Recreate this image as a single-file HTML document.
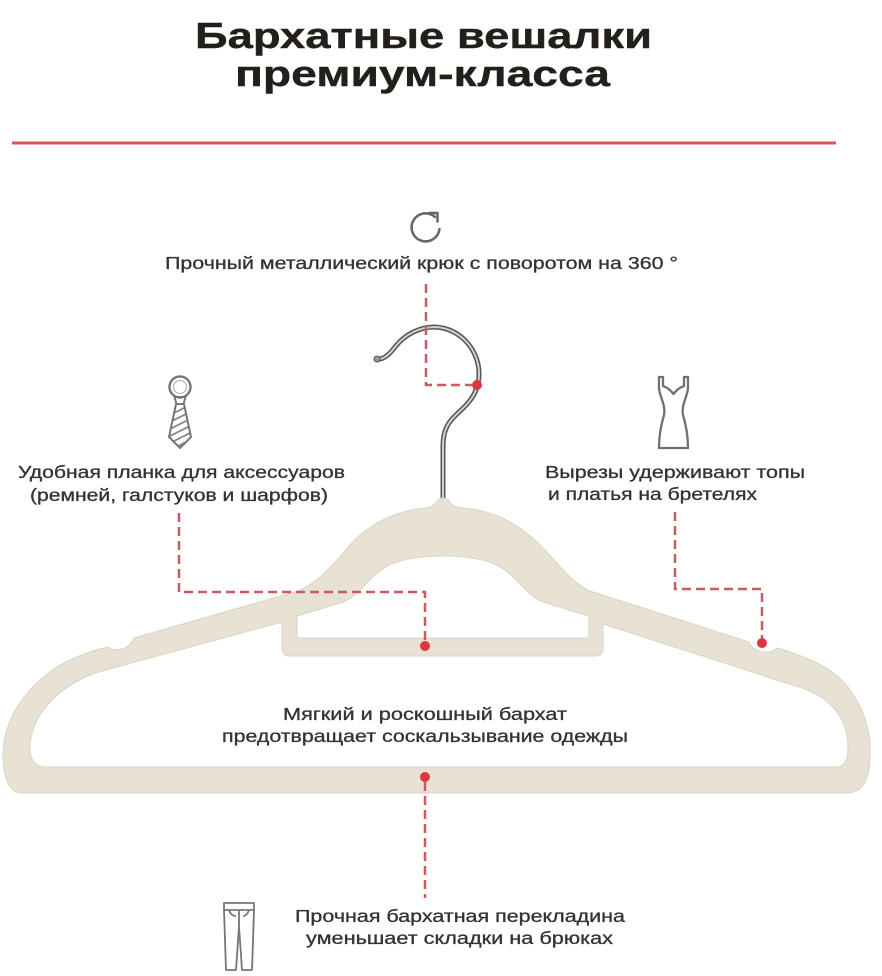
<!DOCTYPE html>
<html>
<head>
<meta charset="utf-8">
<style>
  html,body{margin:0;padding:0;background:#fff;}
  svg{display:block;}
  text{font-family:"Liberation Sans","DejaVu Sans",sans-serif;}
</style>
</head>
<body>
<svg width="882" height="976" viewBox="0 0 882 976" xmlns="http://www.w3.org/2000/svg">
  <defs>
    <clipPath id="tieclip">
      <polygon points="176,404 184,404 191,437 180,448 169,437"/>
    </clipPath>
  </defs>

  <!-- Title -->
  <text x="195" y="48" font-size="36" font-weight="bold" fill="#231f1a" stroke="#231f1a" stroke-width="0.4" textLength="457" lengthAdjust="spacingAndGlyphs">Бархатные вешалки</text>
  <text x="235" y="86" font-size="36" font-weight="bold" fill="#231f1a" stroke="#231f1a" stroke-width="0.4" textLength="375" lengthAdjust="spacingAndGlyphs">премиум-класса</text>

  <!-- red rule -->
  <rect x="12" y="141.5" width="824" height="3" fill="#d5584f"/>

  <!-- rotate icon -->
  <path d="M 435 217 A 14 14 0 1 0 439.5 229" fill="none" stroke="#666" stroke-width="2.5" stroke-linecap="round"/>
  <polyline points="429,213 437.5,213 437.5,221.5" fill="none" stroke="#666" stroke-width="2.5" stroke-linecap="round" stroke-linejoin="round"/>

  <!-- Tie icon -->
  <circle cx="180" cy="387" r="10.5" fill="none" stroke="#777" stroke-width="2.4"/>
  <circle cx="180" cy="387" r="6.5" fill="none" stroke="#aaa" stroke-width="1"/>
  <polygon points="174.5,397 185.5,397 183.5,404 176.5,404" fill="none" stroke="#777" stroke-width="2" stroke-linejoin="round"/>
  <g clip-path="url(#tieclip)" stroke="#888" stroke-width="1.8">
    <line x1="164" y1="411" x2="196" y2="395"/>
    <line x1="164" y1="418" x2="196" y2="402"/>
    <line x1="164" y1="425" x2="196" y2="409"/>
    <line x1="164" y1="432" x2="196" y2="416"/>
    <line x1="164" y1="439" x2="196" y2="423"/>
    <line x1="164" y1="446" x2="196" y2="430"/>
    <line x1="164" y1="453" x2="196" y2="437"/>
  </g>
  <polygon points="176,404 184,404 191,437 180,448 169,437" fill="none" stroke="#777" stroke-width="2" stroke-linejoin="round"/>

  <!-- Dress icon -->
  <path d="M 659 377 L 659 388 C 659 395, 666 405, 664 415 C 661 425, 659 435, 659 448 L 688 448 C 688 435, 686 425, 683 415 C 681 405, 688 395, 688 388 L 688 377 L 684 377 L 684 386 Q 678 388 673.5 394 Q 669 388 663 386 L 663 377 Z" fill="none" stroke="#707070" stroke-width="2.3" stroke-linejoin="round"/>

  <!-- Hook wire -->
  <path d="M 377 359 C 383 360, 389 355, 395 347 C 405 334, 420 327, 435 327 C 460 328, 480 350, 479 376 C 478 394, 468 404, 458 413 C 448 422, 443 430, 443 446 L 443 502" fill="none" stroke="#555" stroke-width="5" stroke-linecap="round"/>
  <path d="M 377 359 C 383 360, 389 355, 395 347 C 405 334, 420 327, 435 327 C 460 328, 480 350, 479 376 C 478 394, 468 404, 458 413 C 448 422, 443 430, 443 446 L 443 502" fill="none" stroke="#d0d0d0" stroke-width="2" stroke-linecap="round"/>
  <circle cx="377" cy="359" r="3" fill="#9a9a9a" stroke="#555" stroke-width="1"/>

  <!-- Hanger body -->
  <path d="M 437 501 C 439 497, 447 497, 449 501 Q 452 507 462 508 C 495 510, 520 525, 540 545 C 558 563, 570 582, 590 591 L 749 642 C 753 652, 770 656, 777 648 C 805 656, 835 668, 850 690 C 866 712, 872 735, 870 760 C 869 778, 864 793, 846 793 L 22 793 C 10 793, 3 780, 3 755 C 3 720, 25 688, 57 667 C 75 656, 95 650, 108 647 C 113 651, 128 652, 134 638 L 298 591 C 318 583, 333 565, 350 545 C 370 522, 400 510, 425 508 Q 434 507 437 501 Z" fill="#e7e2d4" stroke="#dad4c4" stroke-width="1"/>
  <!-- small hole -->
  <path d="M 297 616 L 343 602 C 360 597, 372 568, 400 561 C 415 557, 430 556, 443 556 C 456 556, 471 557, 486 561 C 514 568, 526 597, 543 602 L 589 616 L 589 634 Q 589 638 585 638 L 301 638 Q 297 638 297 634 Z" fill="#ffffff" stroke="#dad4c4" stroke-width="1"/>
  <!-- big hole -->
  <path d="M 282 622 L 282 648 Q 282 656 290 656 L 595 656 Q 603 656 603 648 L 603 624 L 805 689 C 835 701, 848 722, 848 748 C 848 760, 845 767, 835 767 L 46 767 C 35 767, 30 760, 30 748 C 30 718, 55 688, 95 673 Z" fill="#ffffff" stroke="#dad4c4" stroke-width="1"/>

  <!-- Dashed connectors -->
  <g fill="none" stroke="#c95b61" stroke-width="2.5" stroke-dasharray="9 5">
    <path d="M 426 284 L 426 385 L 472 385"/>
    <path d="M 179 513 L 179 592 L 425 592 L 425 641"/>
    <path d="M 675 512 L 675 589 L 762 589 L 762 638"/>
    <path d="M 425 782 L 425 898"/>
  </g>
  <g fill="#de3640">
    <circle cx="477" cy="385" r="5"/>
    <circle cx="425" cy="646" r="5"/>
    <circle cx="762" cy="643" r="5"/>
    <circle cx="425" cy="777" r="5"/>
  </g>

  <!-- Pants icon -->
  <g fill="none" stroke="#777" stroke-width="1.8" stroke-linejoin="round">
    <rect x="224" y="903" width="30" height="7"/>
    <path d="M 224 910 L 226 970 L 236 970 L 239 926 L 242 970 L 252 970 L 254 910"/>
    <path d="M 239 910 L 239 926"/>
    <path d="M 229 910 Q 231 916 236 916"/>
    <path d="M 249 910 Q 247 916 243 916"/>
  </g>

  <!-- Captions (drawn last so nothing covers them) -->
  <g fill="#333" stroke="#333" stroke-width="0.3" font-size="17.5">
    <text x="165" y="269" textLength="513" lengthAdjust="spacingAndGlyphs">Прочный металлический крюк с поворотом на 360 °</text>
    <text x="18" y="478" textLength="327" lengthAdjust="spacingAndGlyphs">Удобная планка для аксессуаров</text>
    <text x="30" y="501" textLength="298" lengthAdjust="spacingAndGlyphs">(ремней, галстуков и шарфов)</text>
    <text x="545" y="478" textLength="260" lengthAdjust="spacingAndGlyphs">Вырезы удерживают топы</text>
    <text x="548" y="500" textLength="209" lengthAdjust="spacingAndGlyphs">и платья на бретелях</text>
    <text x="283" y="720" textLength="284" lengthAdjust="spacingAndGlyphs">Мягкий и роскошный бархат</text>
    <text x="222" y="742" textLength="406" lengthAdjust="spacingAndGlyphs">предотвращает соскальзывание одежды</text>
    <text x="295" y="922" textLength="330" lengthAdjust="spacingAndGlyphs">Прочная бархатная перекладина</text>
    <text x="306" y="944" textLength="307" lengthAdjust="spacingAndGlyphs">уменьшает складки на брюках</text>
  </g>
</svg>
</body>
</html>
